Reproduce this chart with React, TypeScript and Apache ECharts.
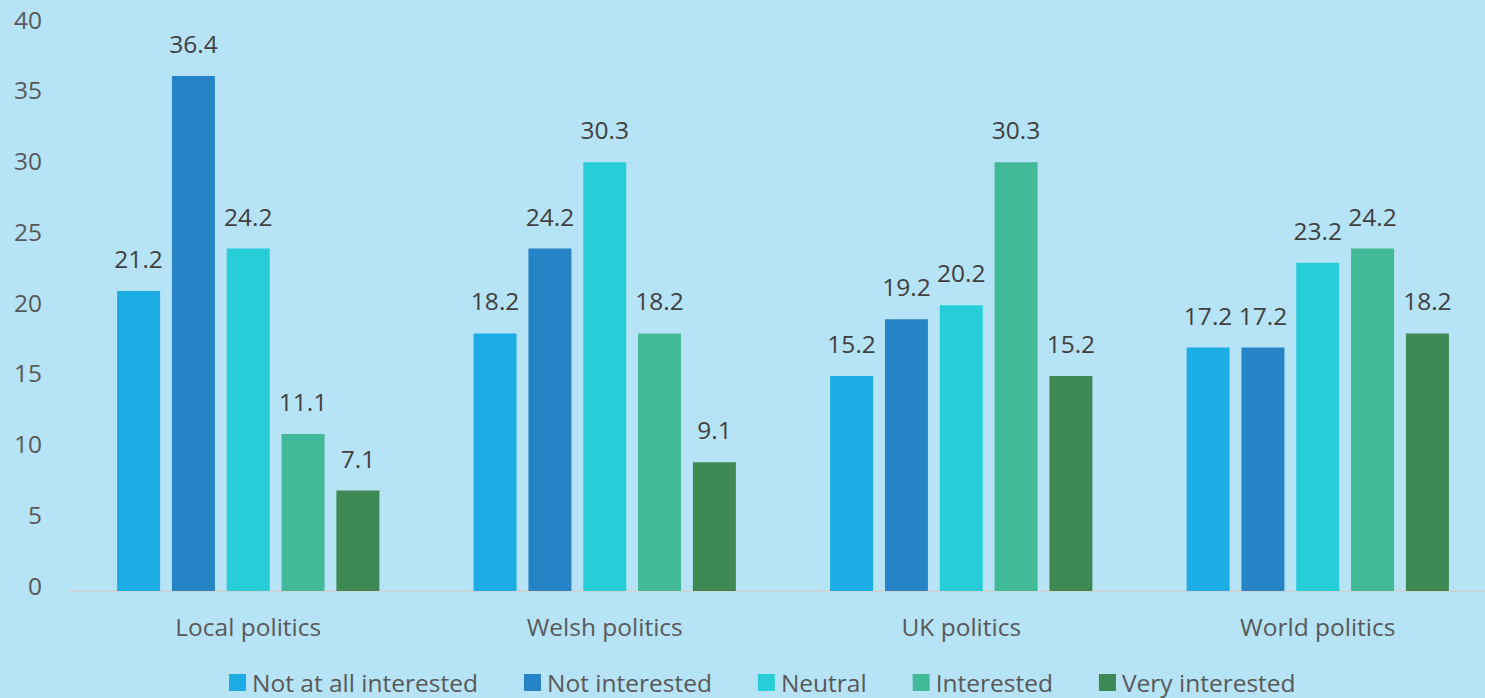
import React, { useEffect, useRef } from "react";
import * as echarts from "echarts";

const categories = ["Local politics", "Welsh politics", "UK politics", "World politics"];
const seriesNames = ["Not at all interested", "Not interested", "Neutral", "Interested", "Very interested"];
const notAtAll = [21.2, 18.2, 15.2, 17.2];
const notInterested = [36.4, 24.2, 19.2, 17.2];
const neutral = [24.2, 30.3, 20.2, 23.2];
const interested = [11.1, 18.2, 30.3, 24.2];
const veryInterested = [7.1, 9.1, 15.2, 18.2];
const colors = ["#1CADE4", "#2683C6", "#27CED7", "#42BA97", "#3E8853"];

const FONT = "'Open Sans', sans-serif";

export default function App() {
  const ref = useRef<HTMLDivElement>(null);
  useEffect(() => {
    const chart = echarts.init(ref.current!, undefined, { renderer: "svg" });
    const data = [notAtAll, notInterested, neutral, interested, veryInterested];
    chart.setOption({
      animation: false,
      backgroundColor: "#B6E3F5",
      color: colors,
      textStyle: { fontFamily: FONT },
      grid: { left: 70, right: 28, top: 25, bottom: 129 },
      legend: {
        data: seriesNames,
        left: 229,
        top: 670,
        padding: 0,
        itemWidth: 17,
        itemHeight: 17,
        itemGap: 46,
        icon: "rect",
        textStyle: { fontFamily: FONT, fontSize: 24.5, color: "#595959", padding: [0, 0, 0, 1] },
      },
      xAxis: {
        type: "category",
        data: categories,
        axisLine: { show: true, lineStyle: { color: "#D0D0D0", width: 1.5 } },
        axisTick: { show: false },
        axisLabel: { fontFamily: FONT, fontSize: 24.5, color: "#595959", margin: 23 },
      },
      yAxis: {
        type: "value",
        min: 0,
        max: 40,
        interval: 5,
        axisLine: { show: false },
        axisTick: { show: false },
        splitLine: { show: false },
        axisLabel: {
          fontFamily: FONT,
          fontSize: 24.5,
          color: "#595959",
          margin: 28,
          verticalAlign: "bottom",
          lineHeight: 12,
        },
      },
      series: seriesNames.map((name, i) => ({
        name,
        type: "bar",
        data: data[i],
        barWidth: 43,
        barGap: "27.5%",
        itemStyle: { color: colors[i] },
        label: {
          show: true,
          position: "top",
          distance: 20,
          fontFamily: FONT,
          fontSize: 24.5,
          color: "#404040",
          formatter: (p: any) => p.value.toFixed(1),
        },
      })),
    });
    return () => chart.dispose();
  }, []);
  return (
    <div
      ref={ref}
      style={{ position: "fixed", left: 0, top: 0, width: 1524, height: 720 }}
    />
  );
}
